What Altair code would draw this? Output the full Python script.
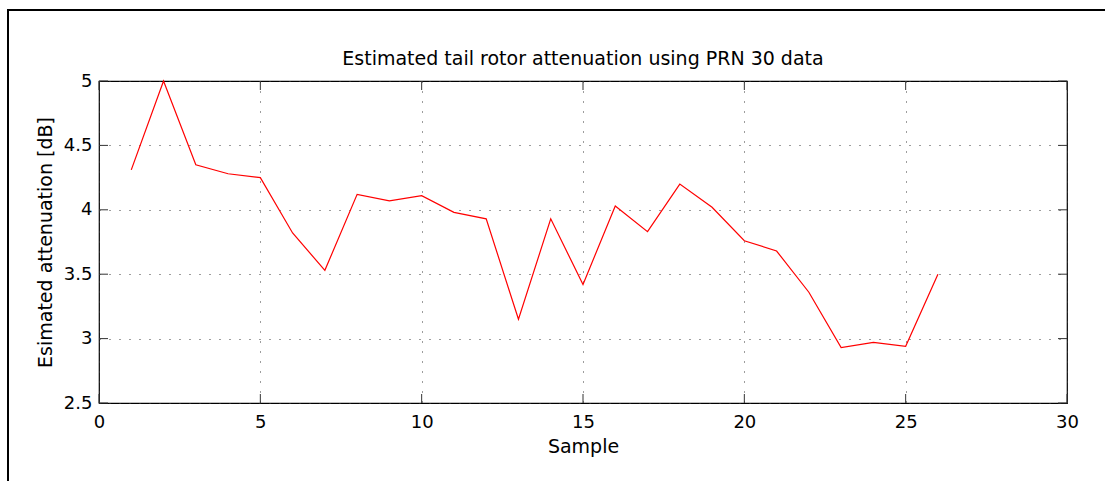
import altair as alt
import pandas as pd

# ---- data ----
samples = list(range(1, 27))
attenuation = [4.31, 5.00, 4.35, 4.28, 4.25, 3.82, 3.53, 4.12, 4.07, 4.11,
               3.98, 3.93, 3.15, 3.93, 3.42, 4.03, 3.83, 4.20, 4.02, 3.76,
               3.68, 3.36, 2.93, 2.97, 2.94, 3.50]
x_ticks = [0, 5, 10, 15, 20, 25, 30]
y_ticks = [2.5, 3.0, 3.5, 4.0, 4.5, 5.0]

title_text = "Estimated tail rotor attenuation using PRN 30 data"
x_title = "Sample"
y_title = "Esimated attenuation [dB]"

W, H = 968, 322
PAD_L, PAD_T, PAD_R, PAD_B = 99, 81, 38, 78
FONT = "DejaVu Sans"
TICK_LEN = 9
TICK_COLOR = "#333333"

df = pd.DataFrame({"sample": samples, "att": attenuation})
xt = pd.DataFrame({"v": x_ticks})
yt = pd.DataFrame({"v": y_ticks})
one = pd.DataFrame({"k": [0]})

xscale = alt.Scale(domain=[0, 30], nice=False, zero=False)
yscale = alt.Scale(domain=[2.5, 5], nice=False, zero=False)

x_axis = alt.Axis(values=x_ticks, grid=True, gridDash=[1, 9], gridColor="#3a3a3a",
                  gridWidth=1, tickSize=0, domain=False, labelFont=FONT,
                  labelFontSize=18, labelColor="#000", labelPadding=10,
                  title=x_title, titleFont=FONT, titleFontSize=19,
                  titleFontWeight="normal", titleColor="#000", titlePadding=6,
                  format="d", labelFlush=False)
y_axis = alt.Axis(values=y_ticks, grid=True, gridDash=[1, 9], gridColor="#3a3a3a",
                  gridWidth=1, tickSize=0, domain=False, labelFont=FONT,
                  labelFontSize=18, labelColor="#000", labelPadding=7,
                  title=y_title, titleFont=FONT, titleFontSize=19,
                  titleFontWeight="normal", titleColor="#000", titlePadding=8,
                  labelExpr="datum.value == 3 || datum.value == 4 || datum.value == 5 ? format(datum.value, 'd') : format(datum.value, '.1f')",
                  labelFlush=False)

line = alt.Chart(df).mark_line(color="#ff0000", strokeWidth=1.2).encode(
    x=alt.X("sample:Q", scale=xscale, axis=x_axis),
    y=alt.Y("att:Q", scale=yscale, axis=y_axis),
)

tick_bottom = alt.Chart(xt).mark_rule(color=TICK_COLOR, strokeWidth=1).encode(
    x=alt.X("v:Q", scale=xscale), y=alt.value(H), y2=alt.value(H - TICK_LEN))
tick_top = alt.Chart(xt).mark_rule(color=TICK_COLOR, strokeWidth=1).encode(
    x=alt.X("v:Q", scale=xscale), y=alt.value(0), y2=alt.value(TICK_LEN))
tick_left = alt.Chart(yt).mark_rule(color=TICK_COLOR, strokeWidth=1).encode(
    y=alt.Y("v:Q", scale=yscale), x=alt.value(0), x2=alt.value(TICK_LEN))
tick_right = alt.Chart(yt).mark_rule(color=TICK_COLOR, strokeWidth=1).encode(
    y=alt.Y("v:Q", scale=yscale), x=alt.value(W - TICK_LEN), x2=alt.value(W))

# outer figure frame (decoration)
frame_top = alt.Chart(one).mark_rule(color="#000", strokeWidth=2).encode(
    x=alt.value(-PAD_L + 8), x2=alt.value(W + PAD_R + 10), y=alt.value(-PAD_T + 10))
frame_left = alt.Chart(one).mark_rule(color="#000", strokeWidth=2).encode(
    x=alt.value(-PAD_L + 8), y=alt.value(-PAD_T + 9), y2=alt.value(H + PAD_B + 10))

chart = alt.layer(
    line, tick_bottom, tick_top, tick_left, tick_right, frame_top, frame_left
).properties(
    width=W, height=H,
    title=alt.TitleParams(title_text, font=FONT, fontSize=19, fontWeight="normal",
                          color="#000", anchor="middle", frame="group",
                          baseline="alphabetic", offset=0, dy=76),
    autosize=alt.AutoSizeParams(type="none"),
    padding={"left": PAD_L, "top": PAD_T, "right": PAD_R, "bottom": PAD_B},
    background="white",
).configure_view(stroke="#000", strokeWidth=1.2)

chart.save("out.html", embed_options={"renderer": "svg", "actions": False})
